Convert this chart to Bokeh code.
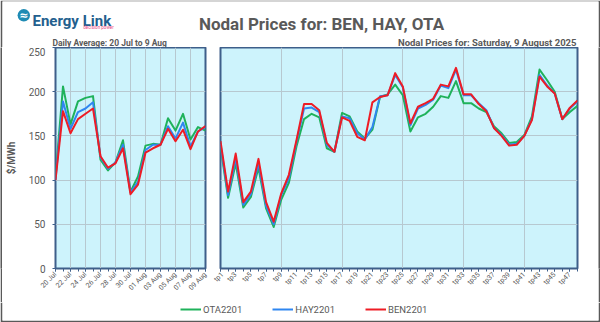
import numpy as np
from bokeh.plotting import figure
from bokeh.layouts import row, column
from bokeh.models import Range1d, FixedTicker, Legend, LegendItem
from bokeh.core.properties import value
from bokeh.embed import file_html
from bokeh.resources import INLINE

# ---------------- data ----------------
days = ["20 Jul", "21 Jul", "22 Jul", "23 Jul", "24 Jul", "25 Jul", "26 Jul",
        "27 Jul", "28 Jul", "29 Jul", "30 Jul", "31 Jul", "01 Aug", "02 Aug",
        "03 Aug", "04 Aug", "05 Aug", "06 Aug", "07 Aug", "08 Aug", "09 Aug"]
daily_ota = [103, 206, 163, 189, 193, 195, 123, 111, 120, 145, 87, 104, 139, 141,
             140, 170, 156, 175, 146, 160, 156]
daily_hay = [101, 189, 158, 177, 181, 188, 126, 113, 120, 140, 86, 98, 134, 140,
             140, 161, 147, 165, 138, 155, 160]
daily_ben = [100, 178, 153, 169, 175, 181, 127, 114, 119, 136, 84, 95, 131, 136,
             140, 158, 144, 157, 135, 155, 161]

periods = ["tp%d" % k for k in range(1, 49)]
tp_ota = [138, 80, 119, 69, 81, 114, 68, 47, 78, 97, 138, 169, 175, 171, 136, 132,
          176, 172, 155, 147, 157, 194, 197, 208, 196, 155, 171, 175, 183, 195, 193, 212,
          187, 187, 181, 177, 161, 153, 142, 143, 151, 172, 225, 213, 200, 169, 177, 184]
tp_hay = [141, 83, 125, 72, 84, 119, 71, 50, 83, 102, 143, 181, 182, 177, 140, 132,
          172, 170, 153, 146, 160, 195, 196, 219, 205, 162, 181, 185, 191, 207, 204, 225,
          196, 196, 187, 179, 159, 151, 140, 141, 150, 169, 219, 207, 198, 169, 181, 189]
tp_ben = [144, 87, 130, 75, 87, 124, 75, 53, 85, 106, 145, 186, 186, 179, 142, 132,
          171, 167, 149, 145, 188, 194, 196, 221, 206, 164, 183, 187, 192, 208, 206, 227,
          197, 197, 186, 178, 159, 150, 139, 140, 150, 168, 217, 206, 198, 169, 182, 190]

series_names = ["OTA2201", "HAY2201", "BEN2201"]
y_ticks = [0, 50, 100, 150, 200, 250]

# ---------------- styles ----------------
EDGE = "#595959"
TXT = "#595959"
BG = "#cdf3fc"
FRAME = "#3e5f8a"
GRID = "#b7c8d0"
COLORS = ["#1fb25b", "#2f86f0", "#ee1c25"]
FONT = value("Roboto")

H_HDR, H_MID, H_FTR = 47, 255, 20


def base(width, height, **kw):
    return figure(width=width, height=height, toolbar_location=None,
                  output_backend="svg", **kw)


# ---------------- header ----------------
hdr = base(600, H_HDR, x_range=Range1d(2, 598), y_range=Range1d(H_HDR, 1),
           min_border_left=2, min_border_right=2, min_border_top=1, min_border_bottom=0,
           x_axis_type=None, y_axis_type=None, border_fill_color=EDGE,
           background_fill_color="white", outline_line_color=None)
hdr.circle(x=[23.3], y=[14.8], radius=6.2, fill_color="#1f8bb4", line_color=None)
hdr.text(x=[23.3], y=[15.2], text=["≈"], text_font=value("DejaVu Sans"),
         text_font_style="bold", text_font_size="11px", text_color="white",
         text_align="center", text_baseline="middle")
hdr.text(x=[32], y=[20.5], text=["Energy Link"], text_font=FONT, text_font_style="bold",
         text_font_size="15px", text_color="#235f8e", text_align="left",
         text_baseline="alphabetic")
hdr.text(x=[98], y=[26.5], text=["decision power"], text_font=FONT,
         text_font_size="4.5px", text_color="#e84a7f", text_align="center",
         text_baseline="alphabetic")
hdr.text(x=[321], y=[23], text=["Nodal Prices for: BEN, HAY, OTA"], text_font=FONT,
         text_font_style="bold", text_font_size="17px", text_color=TXT,
         text_align="center", text_baseline="alphabetic")
hdr.text(x=[52], y=[42], text=["Daily Average: 20 Jul to 9 Aug"], text_font=FONT,
         text_font_style="bold", text_font_size="8.5px", text_color=TXT,
         text_align="left", text_baseline="alphabetic")
hdr.text(x=[576], y=[42], text=["Nodal Prices for: Saturday, 9 August 2025"],
         text_font=FONT, text_font_style="bold", text_font_size="9.5px",
         text_color=TXT, text_align="right", text_baseline="alphabetic")


# ---------------- panels ----------------
def style_panel(p):
    p.background_fill_color = BG
    p.border_fill_color = "white"
    p.outline_line_color = FRAME
    p.outline_line_width = 2
    p.xgrid.grid_line_color = GRID
    p.ygrid.grid_line_color = GRID
    p.ygrid.ticker = FixedTicker(ticks=y_ticks)
    ax = p.xaxis[0]
    ax.axis_line_color = None
    ax.major_tick_line_color = FRAME
    ax.minor_tick_line_color = FRAME
    ax.major_tick_in = 0
    ax.major_tick_out = 3
    ax.minor_tick_in = 0
    ax.minor_tick_out = 3
    ax.major_label_orientation = np.pi / 4
    ax.major_label_standoff = 2
    ax.major_label_text_font = "Roboto"
    ax.major_label_text_font_size = "7px"
    ax.major_label_text_color = TXT


left = base(210, H_MID, x_range=Range1d(0, len(days) - 1), y_range=Range1d(0, 250),
            min_border_left=50, min_border_right=7, min_border_top=0,
            min_border_bottom=34)
style_panel(left)
xd = list(range(len(days)))
left.xaxis.ticker = FixedTicker(ticks=xd[::2], minor_ticks=xd)
left.xaxis.major_label_overrides = {i: days[i] for i in xd[::2]}
left.xgrid.ticker = FixedTicker(ticks=xd[::2])
ya = left.yaxis[0]
ya.ticker = FixedTicker(ticks=y_ticks)
ya.axis_line_color = None
ya.major_tick_line_color = FRAME
ya.major_tick_in = 0
ya.major_tick_out = 3
ya.minor_tick_line_color = None
ya.major_label_standoff = 7
ya.major_label_text_font = "Roboto"
ya.major_label_text_font_size = "10px"
ya.major_label_text_color = TXT
ya.axis_label = "$/MWh"
ya.axis_label_text_font = "Roboto"
ya.axis_label_text_font_style = "bold"
ya.axis_label_text_font_size = "10px"
ya.axis_label_text_color = TXT
ya.axis_label_standoff = 9
for ys, c in zip([daily_ota, daily_hay, daily_ben], COLORS):
    left.line(xd, ys, line_color=c, line_width=2, line_join="round")

right = base(386, H_MID, x_range=Range1d(0, len(periods) - 1), y_range=Range1d(0, 250),
             y_axis_location=None, min_border_left=8, min_border_right=21,
             min_border_top=0, min_border_bottom=34)
style_panel(right)
xt = list(range(len(periods)))
right.xaxis.ticker = FixedTicker(ticks=xt[::2], minor_ticks=xt)
right.xaxis.major_label_overrides = {i: periods[i] for i in xt[::2]}
right.xgrid.ticker = FixedTicker(ticks=xt[::8])
for ys, c in zip([tp_ota, tp_hay, tp_ben], COLORS):
    right.line(xt, ys, line_color=c, line_width=2, line_join="round")


def bar(w, h):
    b = base(w, h, min_border=0, x_axis_type=None, y_axis_type=None,
             border_fill_color=EDGE, background_fill_color=EDGE, outline_line_color=None)
    return b


# ---------------- footer / legend ----------------
ftr = base(600, H_FTR, x_range=Range1d(2, 598), y_range=Range1d(0, 1),
           min_border_left=2, min_border_right=2, min_border_top=0, min_border_bottom=2,
           x_axis_type=None, y_axis_type=None, border_fill_color=EDGE,
           background_fill_color="white", outline_line_color=None)
items = []
for name, c in zip(series_names, COLORS):
    r = ftr.line(x=[np.nan], y=[np.nan], line_color=c, line_width=2)
    items.append(LegendItem(label=name, renderers=[r]))
legend = Legend(items=items, orientation="horizontal", location=(178, 5),
                border_line_color=None, background_fill_alpha=0, padding=0, margin=0,
                spacing=30, glyph_width=21, glyph_height=12, label_height=12,
                label_standoff=2, label_text_font="Roboto",
                label_text_font_size="9.5px", label_text_color=TXT)
ftr.add_layout(legend)

layout = column(hdr, row(bar(2, H_MID), left, right, bar(2, H_MID)), ftr)

open("out.html", "w").write(file_html(layout, INLINE))
